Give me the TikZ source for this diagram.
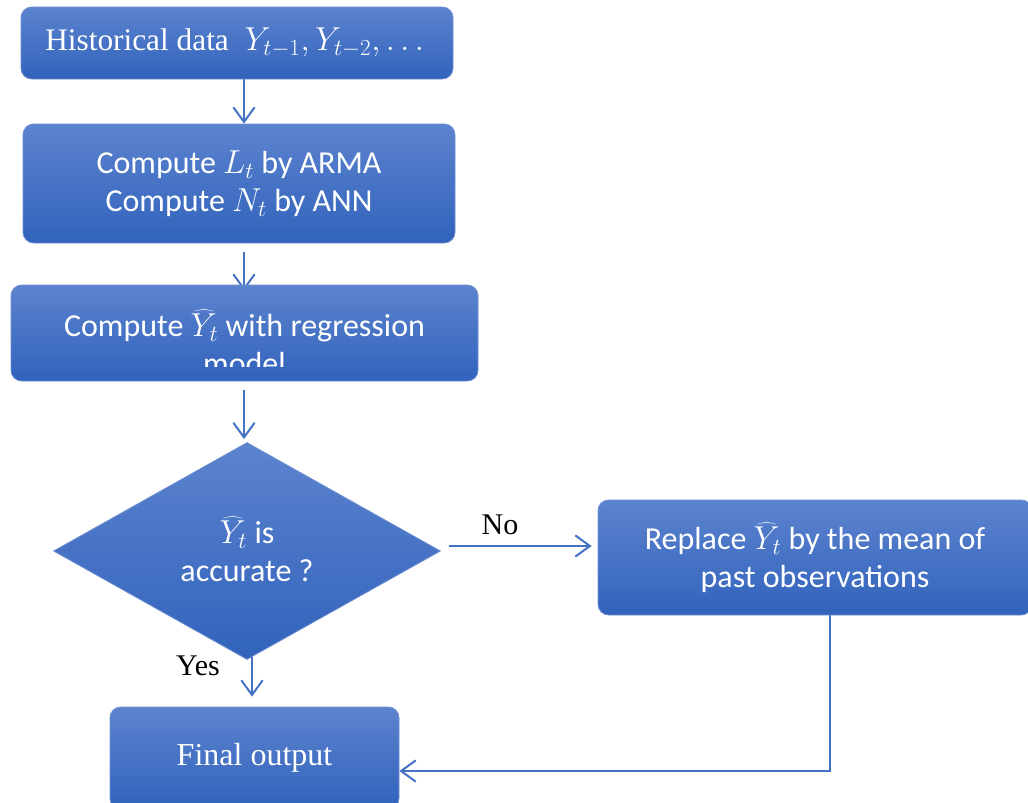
\documentclass[tikz,border=0pt]{standalone}
\usepackage{fontspec}
\setmainfont{Liberation Serif}
\newfontfamily\calfont{Carlito}
\usetikzlibrary{arrows.meta,shapes.geometric}
\definecolor{topc}{RGB}{92,131,206}
\definecolor{botc}{RGB}{49,99,188}
\definecolor{edgec}{RGB}{110,143,210}
\definecolor{arrc}{RGB}{68,114,196}
\pgfdeclarelayer{bg}\pgfdeclarelayer{paper}\pgfsetlayers{paper,bg,main}
\begin{document}
\begin{tikzpicture}[x=0.75pt,y=-0.75pt,
 box/.style={draw=edgec, line width=0.6pt, rounded corners=8pt, top color=topc, bottom color=botc, inner sep=0pt, text=white, align=center},
 dia/.style={diamond, draw=edgec, line width=0.6pt, top color=topc, bottom color=botc, inner sep=0pt},
 arr/.style={draw=arrc, line width=1.5pt, -{Straight Barb[length=11pt,width=16pt,line width=1.5pt]}},
 lab/.style={font=\fontsize{22.5}{26}\selectfont, text=black, inner sep=0pt},
 ser/.style={font=\fontsize{23.5}{26}\selectfont},
 cal/.style={font=\calfont\fontsize{24}{28.5}\selectfont},
]
\useasboundingbox (0,0) rectangle (1028,803);
\begin{pgfonlayer}{paper}
\fill[white] (0,0) rectangle (1028,803);
\end{pgfonlayer}

\node[box, minimum width=324pt, minimum height=54pt] (b1) at (237,43) {};
\node[ser, text=white, inner sep=0pt, anchor=west] (b1t) at (45,43)
  {Historical data\ \ $Y_{t-1}, Y_{t-2},\ldots$};
\node[box, cal, minimum width=324pt, minimum height=89.25pt] (b2) at (239,183.5)
  {Compute $L_t$ by ARMA\\Compute $N_t$ by ANN};
\node[box, minimum width=350.25pt, minimum height=72pt] (b3) at (244.5,333) {};
\begin{scope}
  \clip (11,288) rectangle (478,366);
  \node[cal, text=white, align=center, inner sep=0pt] (b3t) at (244.5,342)
    {Compute $\widehat{Y}_t$ with regression\\model};
\end{scope}
\node[dia, minimum width=290.25pt, minimum height=162.75pt] (d) at (247,551) {};
\node[cal, text=white, align=center, inner sep=0pt] (dt) at (247,549)
  {$\widehat{Y}_t$ is\\accurate ?};
\node[box, cal, minimum width=325.5pt, minimum height=86.25pt] (r) at (815,557.5)
  {Replace $\widehat{Y}_t$ by the mean of\\past observations};
\node[box, font=\fontsize{24}{26}\selectfont, minimum width=216.75pt, minimum height=76.5pt] (f) at (254.5,758)
  {Final output};

\node[lab] (no) at (500,525) {No};
\node[lab] (yes) at (198,666) {Yes};

\coordinate (ax) at (244,0);
\coordinate (ay) at (252,0);
\coordinate (ry) at (0,546);
\coordinate (rx) at (830,0);
\coordinate (fy) at (0,771);

\begin{pgfonlayer}{bg}
\draw[arr] (b1.south -| ax) -- (b2.north -| ax);
\draw[arr] ([yshift=-6.75pt]b2.south -| ax) -- ([yshift=-4.5pt]b3.north -| ax);
\draw[arr] ([yshift=-6.75pt]b3.south -| ax) -- ([yshift=2.25pt]d.north -| ax);
\draw[arr] ([yshift=3.75pt]d.south -| ay) -- ([yshift=7.5pt]f.north -| ay);
\draw[arr] ([xshift=6pt]d.east |- ry) -- ([xshift=-4.5pt]r.west |- ry);
\draw[arr] (r.south -| rx) -- (rx |- fy) -- (f.east |- fy);
\end{pgfonlayer}
\end{tikzpicture}
\end{document}
